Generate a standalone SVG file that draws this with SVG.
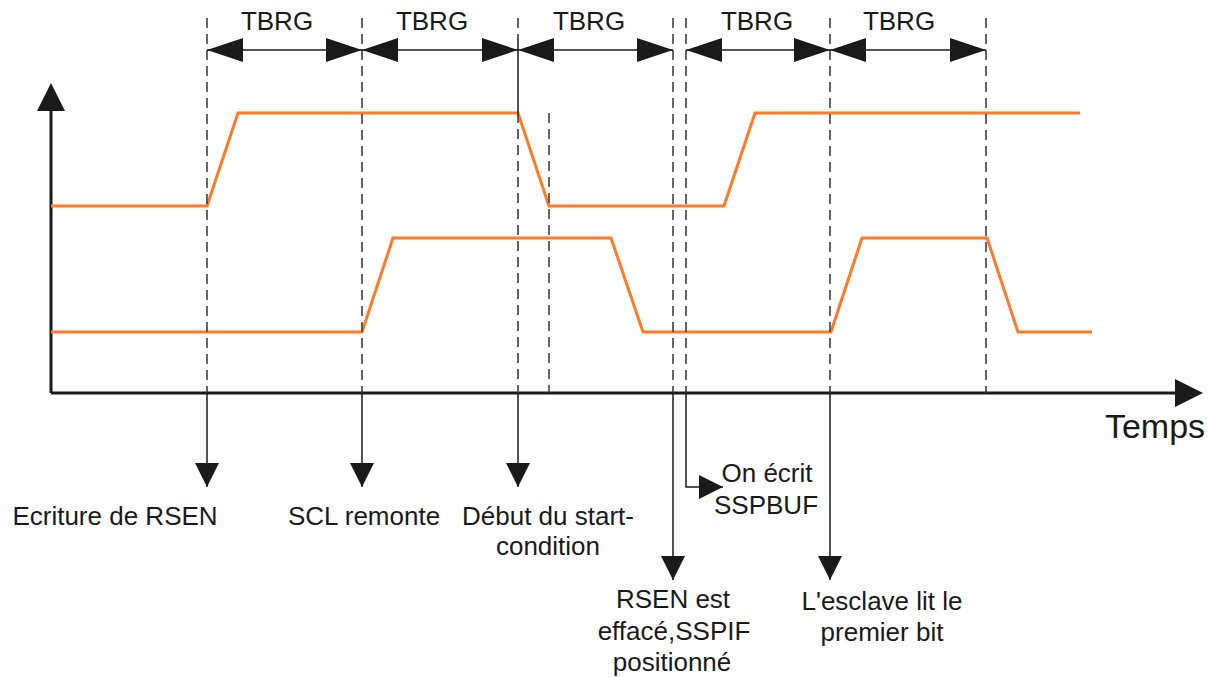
<svg xmlns="http://www.w3.org/2000/svg" width="1218" height="677" viewBox="0 0 1218 677">
<style>
  .txt { font-family: "Liberation Sans", Arial, sans-serif; font-size: 26px; fill: #1a1a1a; text-anchor: middle; }
  .big { font-size: 34px; }
  .axis { stroke: #1a1a1a; stroke-width: 3; fill: none; }
  .sig { stroke: #ff7a26; stroke-width: 3; fill: none; stroke-linejoin: miter; }
  .dash { stroke: #333; stroke-width: 1.5; stroke-dasharray: 10 6; fill: none; }
  .solid { stroke: #1a1a1a; stroke-width: 1.5; fill: none; }
</style>
<defs>
  <marker id="axisHead" viewBox="0 0 28 28" refX="0" refY="14" markerWidth="28" markerHeight="28" markerUnits="userSpaceOnUse" orient="auto">
    <path d="M0,0 L28,14 L0,28 z" fill="#1a1a1a"/>
  </marker>
  <marker id="dimHead" viewBox="0 0 36 24" refX="36" refY="12" markerWidth="36" markerHeight="24" markerUnits="userSpaceOnUse" orient="auto-start-reverse">
    <path d="M0,0 L36,12 L0,24 z" fill="#1a1a1a"/>
  </marker>
  <marker id="head" viewBox="0 0 24 24" refX="24" refY="12" markerWidth="24" markerHeight="24" markerUnits="userSpaceOnUse" orient="auto">
    <path d="M0,0 L24,12 L0,24 z" fill="#1a1a1a"/>
  </marker>
</defs>
<rect width="1218" height="677" fill="#fff"/>

<g id="axes">
  <path class="axis" d="M51,393 V111" marker-end="url(#axisHead)"/>
  <path class="axis" d="M51,393 H1175" marker-end="url(#axisHead)"/>
  <text class="txt big" x="1155" y="438">Temps</text>
</g>

<g id="signals">
  <path id="sda" class="sig" d="M51,206 H207 L238,113 H518 L549,206 H724 L755,113 H1080"/>
  <path id="scl" class="sig" d="M51,332 H362 L393,238 H611 L643,332 H831 L862,238 H987 L1018,332 H1092"/>
</g>

<g id="guides">
  <line class="dash" x1="207" y1="18" x2="207" y2="393"/>
  <line class="dash" x1="362" y1="18" x2="362" y2="393"/>
  <line class="dash" x1="518" y1="18" x2="518" y2="38"/>
  <line class="solid" x1="518" y1="38" x2="518" y2="113"/>
  <line class="dash" x1="518" y1="113" x2="518" y2="393"/>
  <line class="dash" x1="549" y1="113" x2="549" y2="393"/>
  <line class="dash" x1="673" y1="18" x2="673" y2="393"/>
  <line class="dash" x1="686" y1="18" x2="686" y2="393"/>
  <line class="dash" x1="830" y1="18" x2="830" y2="393"/>
  <line class="dash" x1="986" y1="18" x2="986" y2="393"/>
</g>

<g id="tbrg">
  <line class="solid" x1="207" y1="50" x2="362" y2="50" marker-start="url(#dimHead)" marker-end="url(#dimHead)"/>
  <line class="solid" x1="362" y1="50" x2="518" y2="50" marker-start="url(#dimHead)" marker-end="url(#dimHead)"/>
  <line class="solid" x1="518" y1="50" x2="673" y2="50" marker-start="url(#dimHead)" marker-end="url(#dimHead)"/>
  <line class="solid" x1="686" y1="50" x2="830" y2="50" marker-start="url(#dimHead)" marker-end="url(#dimHead)"/>
  <line class="solid" x1="830" y1="50" x2="986" y2="50" marker-start="url(#dimHead)" marker-end="url(#dimHead)"/>
  <text class="txt" x="277" y="30">TBRG</text>
  <text class="txt" x="432" y="30">TBRG</text>
  <text class="txt" x="589" y="30">TBRG</text>
  <text class="txt" x="757" y="30">TBRG</text>
  <text class="txt" x="899" y="30">TBRG</text>
</g>

<g id="connectors">
  <path class="solid" d="M207,393 V487" marker-end="url(#head)"/>
  <path class="solid" d="M362,393 V487" marker-end="url(#head)"/>
  <path class="solid" d="M518,393 V487" marker-end="url(#head)"/>
  <path class="solid" d="M673,393 V580" marker-end="url(#head)"/>
  <path class="solid" d="M686,393 V487 H723" marker-end="url(#head)"/>
  <path class="solid" d="M830,393 V580" marker-end="url(#head)"/>
</g>

<g id="label-ecriture">
  <text class="txt" x="115" y="525">Ecriture de RSEN</text>
</g>
<g id="label-scl">
  <text class="txt" x="364" y="525">SCL remonte</text>
</g>
<g id="label-debut">
  <text class="txt" x="548" y="525">Début du start-</text>
  <text class="txt" x="548" y="555">condition</text>
</g>
<g id="label-ecrit">
  <text class="txt" x="767" y="482">On écrit</text>
  <text class="txt" x="766" y="514">SSPBUF</text>
</g>
<g id="label-rsen">
  <text class="txt" x="673" y="608">RSEN est</text>
  <text class="txt" x="674" y="640">effacé,SSPIF</text>
  <text class="txt" x="672" y="671">positionné</text>
</g>
<g id="label-esclave">
  <text class="txt" x="882" y="610">L'esclave lit le</text>
  <text class="txt" x="882" y="641">premier bit</text>
</g>
</svg>
